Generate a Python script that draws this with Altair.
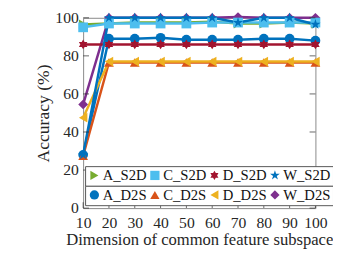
import altair as alt
import pandas as pd

dims = [10, 20, 30, 40, 50, 60, 70, 80, 90, 100]
y_ticks = [0, 20, 40, 60, 80, 100]

s2d_names = ["A_S2D", "C_S2D", "D_S2D", "W_S2D"]
d2s_names = ["A_D2S", "C_D2S", "D_D2S", "W_D2S"]

A_S2D = [96.5, 97, 97.5, 97.5, 97.5, 98, 97, 97, 97.5, 97]
C_S2D = [95, 97, 97, 97, 97, 97.5, 97.5, 97.5, 97.5, 97.5]
D_S2D = [86, 86, 86, 86, 86, 86, 86, 86, 86, 86]
W_S2D = [28, 100, 100, 100, 100, 100, 97.5, 100, 100, 96.5]
A_D2S = [28, 89, 89, 89.5, 88.5, 88.5, 88.5, 89, 89, 88]
C_D2S = [27.5, 76.5, 76.5, 76.5, 76.5, 76.5, 76.5, 76.5, 76.5, 76.5]
D_D2S = [47.5, 77, 77, 77, 77, 77, 77, 77, 77, 77]
W_D2S = [54.5, 100, 100, 100, 100, 100, 100.4, 100, 100, 100]

s2d_colors = ["#77AC30", "#4DBEEE", "#A2142F", "#0072BD"]
d2s_colors = ["#0072BD", "#D95319", "#EDB120", "#7E2F8E"]

HEXAGRAM = "M0,-1L0.29,-0.5L0.87,-0.5L0.58,0L0.87,0.5L0.29,0.5L0,1L-0.29,0.5L-0.87,0.5L-0.58,0L-0.87,-0.5L-0.29,-0.5Z"
STAR = "M0,-1.1L0.25,-0.34L1.05,-0.34L0.4,0.13L0.65,0.9L0,0.42L-0.65,0.9L-0.4,0.13L-1.05,-0.34L-0.25,-0.34Z"
s2d_shapes = ["triangle-right", "square", HEXAGRAM, STAR]
d2s_shapes = ["circle", "triangle-up", "triangle-left", "diamond"]

FONT = "Liberation Serif"
W, H = 238, 195


def long_df(names, values):
    rows = []
    for n, vals in zip(names, values):
        for d, v in zip(dims, vals):
            rows.append({"dim": d, "acc": v, "series": n})
    return pd.DataFrame(rows)


df_s2d = long_df(s2d_names, [A_S2D, C_S2D, D_S2D, W_S2D])
df_d2s = long_df(d2s_names, [A_D2S, C_D2S, D_D2S, W_D2S])

x_enc = alt.X(
    "dim:Q",
    scale=alt.Scale(domain=[10, 100], nice=False),
    axis=alt.Axis(values=dims, title="Dimension of common feature subspace",
                  ticks=False, domain=False, labelPadding=7, titlePadding=1,
                  labelOverlap=False, labelFlush=False),
)
y_enc = alt.Y(
    "acc:Q",
    scale=alt.Scale(domain=[0, 100], nice=False),
    axis=alt.Axis(values=y_ticks, title="Accuracy (%)", ticks=False, domain=False,
                  labelPadding=5, titlePadding=3, labelOverlap=False, labelFlush=False),
)


def group(df, names, colors, shapes, legend_y):
    leg = alt.Legend(
        title=None, orient="none", legendX=2, legendY=legend_y, columns=4,
        direction="horizontal",
    )
    color = alt.Color("series:N", scale=alt.Scale(domain=names, range=colors), legend=leg)
    shape = alt.Shape("series:N", scale=alt.Scale(domain=names, range=shapes), legend=leg)
    line = alt.Chart(df).mark_line(strokeWidth=2.5).encode(
        x=x_enc, y=y_enc, color=color, detail="series:N",
    )
    pts = alt.Chart(df).mark_point(filled=True, size=100, opacity=1).encode(
        x=x_enc, y=y_enc, color=color, shape=shape,
    )
    return alt.layer(line, pts)


g_d2s = group(df_d2s, d2s_names, d2s_colors, d2s_shapes, 172)
g_s2d = group(df_s2d, s2d_names, s2d_colors, s2d_shapes, 152)

ydf = pd.DataFrame({"acc": y_ticks})
xdf = pd.DataFrame({"dim": dims})
tick_style = dict(thickness=1, color="#262626", size=6)
left_ticks = alt.Chart(ydf).mark_tick(orient="horizontal", **tick_style).encode(
    y=y_enc, x=alt.value(3))
right_ticks = alt.Chart(ydf).mark_tick(orient="horizontal", **tick_style).encode(
    y=y_enc, x=alt.value(W - 3))
bottom_ticks = alt.Chart(xdf).mark_tick(orient="vertical", **tick_style).encode(
    x=x_enc, y=alt.value(H - 3))

chart = alt.layer(g_d2s, g_s2d, left_ticks, right_ticks, bottom_ticks).resolve_scale(
    color="independent", shape="independent"
).properties(
    width=W, height=H,
    autosize=alt.AutoSizeParams(type="none"),
    padding={"left": 77, "top": 7, "right": 18, "bottom": 45},
).configure_view(stroke="#888", strokeWidth=1).configure_axis(
    labelFont=FONT, labelFontSize=16, labelColor="#262626",
    titleFont=FONT, titleColor="#262626", titleFontWeight="normal",
    grid=False,
).configure_axisX(titleFontSize=17).configure_axisY(titleFontSize=18).configure_legend(
    strokeColor="#555", padding=2, columnPadding=0, labelOffset=1, symbolSize=90,
    symbolStrokeWidth=0, labelFont=FONT, labelFontSize=15, labelColor="#111",
    rowPadding=0, gridAlign="none", fillColor="white", symbolType="circle",
)

chart.save("out.html", embed_options={"renderer": "svg", "actions": False})
